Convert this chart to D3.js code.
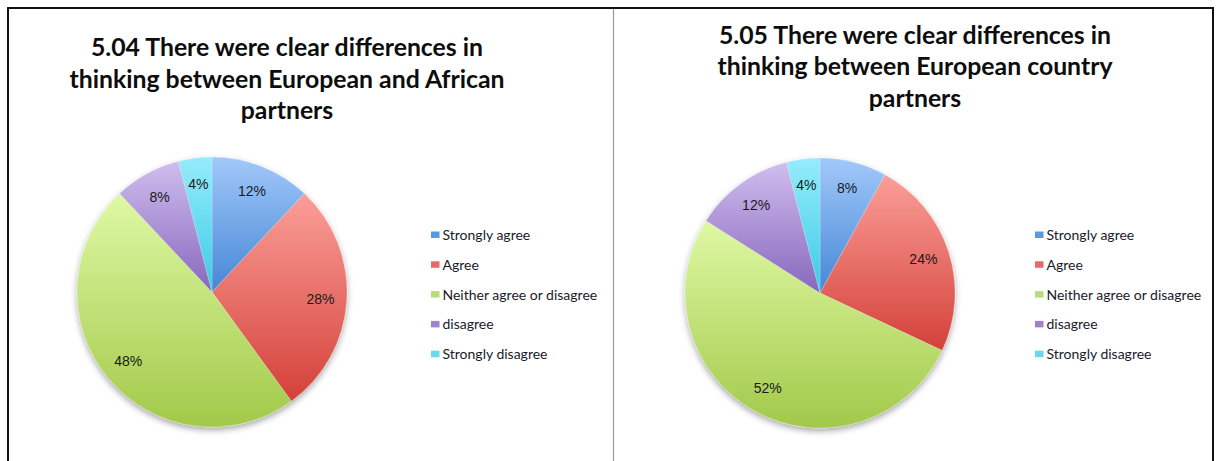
<!DOCTYPE html>
<html>
<head>
<meta charset="utf-8">
<script src="https://cdn.jsdelivr.net/npm/d3@7"></script>
<style>
  html, body { margin: 0; padding: 0; background: #fff; }
  svg { display: block; }
</style>
</head>
<body>
<svg id="chart" width="1216" height="461"></svg>
<script>
// ---- Data ----
const categories = ["Strongly agree", "Agree", "Neither agree or disagree", "disagree", "Strongly disagree"];
const values504 = [12, 28, 48, 8, 4];
const values505 = [8, 24, 52, 12, 4];
const title504 = ["5.04 There were clear differences in", "thinking between European and African", "partners"];
const title505 = ["5.05 There were clear differences in", "thinking between European country", "partners"];

// ---- Styles ----
const gradTop = ["#a2c8fa", "#fb9e98", "#dff9a4", "#d0bdee", "#95ecfc"];
const gradBot = ["#4487d6", "#d4413a", "#a2c94a", "#8767bd", "#3ccae6"];
const legendCol = ["#5c97df", "#e76a67", "#b8dc7c", "#9c83cb", "#67d8ef"];

const svg = d3.select("#chart");
const defs = svg.append("defs");

categories.forEach((c, i) => {
  const g = defs.append("linearGradient").attr("id", "grad" + i)
    .attr("x1", 0).attr("y1", 0).attr("x2", 0).attr("y2", 1);
  g.append("stop").attr("offset", "0%").attr("stop-color", gradTop[i]);
  g.append("stop").attr("offset", "100%").attr("stop-color", gradBot[i]);
});

const shadow = defs.append("filter").attr("id", "shadow")
  .attr("x", "-20%").attr("y", "-20%").attr("width", "140%").attr("height", "140%");
shadow.append("feDropShadow").attr("dx", 0).attr("dy", 3).attr("stdDeviation", 3)
  .attr("flood-color", "#000").attr("flood-opacity", 0.35);

// frame
svg.append("rect").attr("x", 8).attr("y", 8).attr("width", 1205).attr("height", 470)
  .attr("fill", "none").attr("stroke", "#111").attr("stroke-width", 2);
svg.append("line").attr("x1", 613.5).attr("x2", 613.5).attr("y1", 9).attr("y2", 461)
  .attr("stroke", "#9a9a9a").attr("stroke-width", 1.2);

const pie = d3.pie().sort(null).value(d => d);
const R = 135;
const arc = d3.arc().innerRadius(0).outerRadius(R);
const labelArc = d3.arc().innerRadius(R * 0.805).outerRadius(R * 0.805);

function drawPanel(opts) {
  const { values, title, cx, cy, titleX, titleY, legX, legY } = opts;

  // title
  const t = svg.append("text")
    .attr("x", titleX).attr("y", titleY)
    .attr("text-anchor", "middle")
    .attr("font-family", "Lato, 'Open Sans', sans-serif")
    .attr("font-weight", "bold")
    .attr("font-size", 24.8)
    .attr("fill", "#0d0d0d");
  title.forEach((line, i) => {
    t.append("tspan").attr("x", titleX).attr("y", titleY + i * 31.5).text(line);
  });

  // pie
  const g = svg.append("g").attr("transform", `translate(${cx},${cy})`);
  const sg = g.append("g").attr("filter", "url(#shadow)");
  const arcs = pie(values);
  sg.selectAll("path").data(arcs).enter().append("path")
    .attr("d", arc)
    .attr("fill", (d, i) => `url(#grad${i})`)
    .attr("stroke", "rgba(255,255,255,0.35)")
    .attr("stroke-width", 0.6);

  g.selectAll("text.lbl").data(arcs).enter().append("text")
    .attr("class", "lbl")
    .attr("transform", d => `translate(${labelArc.centroid(d)})`)
    .attr("text-anchor", "middle")
    .attr("dy", "0.36em")
    .attr("font-family", "'Liberation Sans', Arial, sans-serif")
    .attr("font-size", 14)
    .attr("fill", "#1a1a1a")
    .text(d => d.data + "%");

  // legend
  const lg = svg.append("g").attr("transform", `translate(${legX},${legY})`);
  const rows = lg.selectAll("g").data(categories).enter().append("g")
    .attr("transform", (d, i) => `translate(0,${i * 29.8})`);
  rows.append("rect").attr("x", 0).attr("y", -3.5).attr("width", 8.5).attr("height", 6.5)
    .attr("fill", (d, i) => legendCol[i]);
  rows.append("text").attr("x", 11.5).attr("y", 5)
    .attr("font-family", "Lato, 'Open Sans', sans-serif")
    .attr("font-size", 14)
    .attr("fill", "#1a1a2a")
    .text(d => d);
}

drawPanel({ values: values504, title: title504, cx: 212, cy: 292, titleX: 287, titleY: 56, legX: 431, legY: 235 });
drawPanel({ values: values505, title: title505, cx: 820, cy: 293, titleX: 915, titleY: 43.5, legX: 1035, legY: 235 });
</script>
</body>
</html>
